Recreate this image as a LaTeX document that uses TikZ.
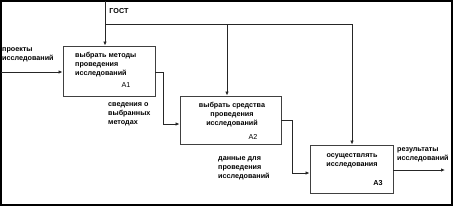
\documentclass[tikz,border=0pt]{standalone}
\usepackage{fontspec}
\setmainfont{Liberation Sans}
\usetikzlibrary{arrows.meta,positioning,calc}

\begin{document}
\begin{tikzpicture}[x=1pt,y=-1pt,
  block/.style={draw=black!75,line width=0.9pt,inner sep=0pt},
  txt/.style={font=\fontsize{7.2}{9}\selectfont\bfseries,inner sep=0pt,align=left},
  ctxt/.style={txt,align=center},
  code/.style={font=\fontsize{7.2}{8}\selectfont,inner sep=0pt},
  arrow/.style={-{Latex[length=4pt,width=3.5pt]},line width=1pt,black!85},
]
\useasboundingbox (0,0) rectangle (455,207);
\draw[line width=1.2pt] (1,1) rectangle (452,205);
\node[block,minimum width=92pt,minimum height=50pt] (a1) at (109,71) {};
\node[block,minimum width=101pt,minimum height=48pt] (a2) at (230.5,120) {};
\node[block,minimum width=83pt,minimum height=48pt] (a3) at (351.5,169) {};
\node[txt,anchor=north west] (t1) at (75,52) {выбрать методы\\проведения\\исследований};
\node[code] (c1) at (126,85) {A1};
\node[ctxt,anchor=north] (t2) at (232,102) {выбрать средства\\проведения\\исследований};
\node[code] (c2) at (253,137) {A2};
\node[ctxt,anchor=north] (t3) at (352,153) {осуществлять\\исследования};
\node[code,font=\fontsize{7.2}{8}\selectfont\bfseries] (c3) at (378,183) {A3};
\node[txt] (gostl) at (119,11) {ГОСТ};
\node[txt,anchor=north west] (inl) at (2,47) {проекты\\исследований};
\node[txt,anchor=north west] (m1) at (108,102) {сведения о\\выбранных\\методах};
\node[txt,anchor=north west] (m2) at (218,156) {данные для\\проведения\\исследований};
\node[txt,anchor=north west] (outl) at (397,147) {результаты\\исследований};
\coordinate (gost) at (105,1);
\coordinate (br) at (105,24);
\coordinate (in) at (1,72);
\coordinate (out) at (445,170);
\draw[arrow] (gost) -- ([xshift=-4pt]a1.north);
\draw[arrow] (br) -| ([xshift=-3.5pt]a2.north);
\draw[arrow] (br) -| ([xshift=0.5pt]a3.north);
\draw[arrow] (in) -- ([yshift=-1pt]a1.west);
\draw[arrow] ([yshift=-1pt]a1.east) -- ++(8,0) |- ([yshift=-4pt]a2.west);
\draw[arrow] (a2.east) -- ++(11,0) |- ([yshift=-4pt]a3.west);
\draw[arrow] ([yshift=-1pt]a3.east) -- (out);
\end{tikzpicture}
\end{document}
